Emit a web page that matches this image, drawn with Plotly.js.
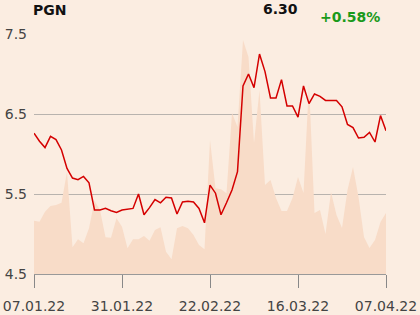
<!DOCTYPE html>
<html>
<head>
<meta charset="utf-8">
<script src="https://cdn.plot.ly/plotly-3.0.1.min.js"></script>
<style>
html,body{margin:0;padding:0;background:#fbede1;}
#chart{width:420px;height:315px;}
</style>
</head>
<body>
<div id="chart"></div>
<script>
// Trading days (DD.MM.YY)
var dates = [
"07.01.22","10.01.22","11.01.22","12.01.22","13.01.22","14.01.22","17.01.22","18.01.22","19.01.22","20.01.22","21.01.22",
"24.01.22","25.01.22","26.01.22","27.01.22","28.01.22","31.01.22",
"01.02.22","02.02.22","03.02.22","04.02.22","07.02.22","08.02.22","09.02.22","10.02.22","11.02.22",
"14.02.22","15.02.22","16.02.22","17.02.22","18.02.22","21.02.22","22.02.22","23.02.22","24.02.22","25.02.22","28.02.22",
"01.03.22","02.03.22","03.03.22","04.03.22","07.03.22","08.03.22","09.03.22","10.03.22","11.03.22",
"14.03.22","15.03.22","16.03.22","17.03.22","18.03.22","21.03.22","22.03.22","23.03.22","24.03.22","25.03.22",
"28.03.22","29.03.22","30.03.22","31.03.22","01.04.22","04.04.22","05.04.22","06.04.22","07.04.22"
];
var price = [
6.26,6.16,6.08,6.22,6.18,6.05,5.82,5.70,5.68,5.72,5.64,
5.30,5.30,5.32,5.29,5.27,5.30,
5.31,5.32,5.50,5.24,5.33,5.43,5.39,5.46,5.45,
5.25,5.40,5.41,5.40,5.32,5.14,5.61,5.51,5.24,5.39,5.55,
5.78,6.85,7.00,6.83,7.25,7.03,6.70,6.70,6.93,
6.60,6.60,6.46,6.85,6.63,6.75,6.72,6.67,6.67,6.67,
6.59,6.37,6.33,6.20,6.21,6.27,6.15,6.48,6.29
];
var volume = [
533,523,623,680,690,713,1023,267,347,307,457,
733,640,367,363,557,473,
257,347,347,380,333,440,467,223,147,
457,480,457,390,290,247,1340,857,847,807,1610,
1470,2340,2170,1310,1840,890,940,760,630,
630,760,970,810,1910,610,640,400,820,590,
460,840,1070,770,370,260,340,520,610
];
var tickDates = ["07.01.22","31.01.22","22.02.22","16.03.22","07.04.22"];
var yTicks = [4.5,5.5,6.5,7.5];
var yTickText = ["4.5","5.5","6.5","7.5"];
var ticker = "PGN", lastPrice = "6.30", change = "+0.58%";

var traces = [
  {x: dates, y: volume, type: "scatter", mode: "lines", yaxis: "y",
   fill: "tozeroy", fillcolor: "#f8dcc8", line: {width: 0, color: "#f8dcc8"},
   hoverinfo: "skip"},
  {x: dates, y: price, type: "scatter", mode: "lines", yaxis: "y2",
   line: {color: "#d40000", width: 1.5}}
];
var layout = {
  width: 420, height: 315,
  margin: {l: 34, r: 34, t: 34, b: 41},
  paper_bgcolor: "#fbede1", plot_bgcolor: "#fbede1",
  showlegend: false,
  font: {family: "DejaVu Sans", color: "#444"},
  xaxis: {type: "category", range: [0, dates.length - 1],
    tickmode: "array", tickvals: tickDates, ticktext: tickDates,
    ticks: "outside", ticklen: 13, tickcolor: "#888", tickwidth: 1,
    showline: true, linecolor: "#999", linewidth: 1,
    showgrid: false, zeroline: false, fixedrange: true,
    tickfont: {size: 14, color: "#444"}, ticklabelstandoff: 6},
  yaxis: {range: [0, 2400], showticklabels: false, showgrid: false, zeroline: false,
    showline: false, ticks: "", fixedrange: true},
  yaxis2: {overlaying: "y", side: "left", range: [4.5, 7.5], tickmode: "array",
    tickvals: yTicks, ticktext: yTickText,
    showgrid: true, gridcolor: "#b8b3ae", gridwidth: 1, zeroline: false,
    showline: false, ticks: "", tickfont: {size: 14, color: "#444"},
    ticklabelstandoff: 6, fixedrange: true},
  annotations: [
    {xref: "paper", yref: "paper", x: 0, y: 1, xanchor: "left", yanchor: "bottom",
     yshift: 14, xshift: -3, text: "<b>" + ticker + "</b>", showarrow: false,
     font: {size: 14, color: "#111", family: "DejaVu Sans"}},
    {xref: "paper", yref: "paper", x: 0.70, y: 1, xanchor: "center", yanchor: "bottom",
     yshift: 15, text: "<b>" + lastPrice + "</b>", showarrow: false,
     font: {size: 14, color: "#111", family: "DejaVu Sans"}},
    {xref: "paper", yref: "paper", x: 0.989, y: 1, xanchor: "right", yanchor: "bottom",
     yshift: 7, text: "<b>" + change + "</b>", showarrow: false,
     font: {size: 14, color: "#1a9a1a", family: "DejaVu Sans"}}
  ]
};
Plotly.newPlot("chart", traces, layout, {displayModeBar: false, staticPlot: true});
</script>
</body>
</html>
